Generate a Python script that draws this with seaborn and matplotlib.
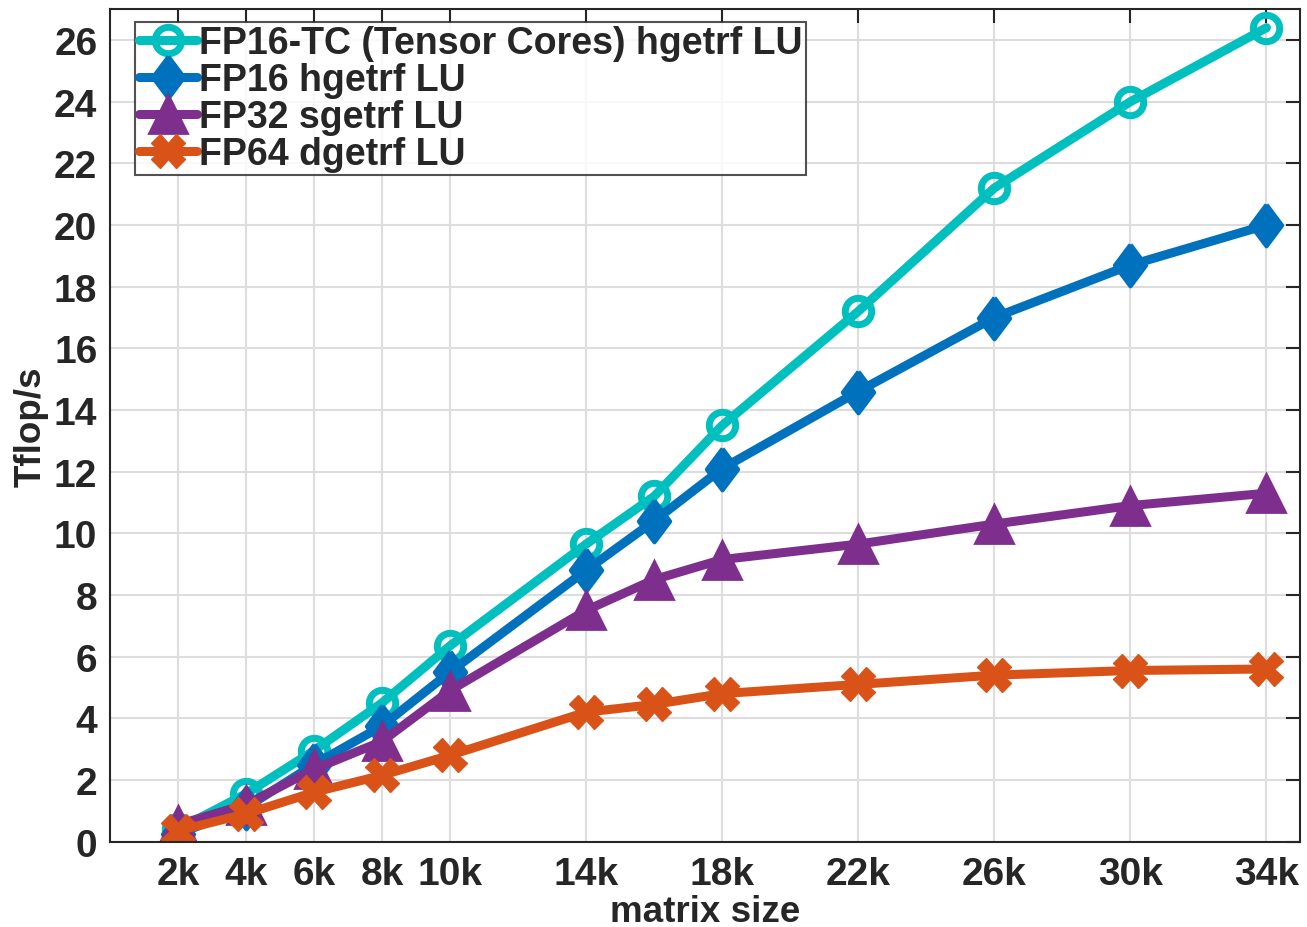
import numpy as np
import pandas as pd
import matplotlib
matplotlib.use("Agg")
import matplotlib.pyplot as plt
import seaborn as sns

# matrix size in k
sizes = [2, 4, 6, 8, 10, 14, 16, 18, 22, 26, 30, 34]
tick_sizes = [2, 4, 6, 8, 10, 14, 18, 22, 26, 30, 34]
tick_labels = [f"{s}k" for s in tick_sizes]

fp16_tc = [0.4, 1.55, 2.95, 4.5, 6.35, 9.65, 11.2, 13.5, 17.2, 21.2, 24.0, 26.4]
fp16 = [0.25, 1.1, 2.5, 3.75, 5.5, 8.8, 10.4, 12.1, 14.6, 17.0, 18.7, 20.0]
fp32 = [0.55, 1.2, 2.35, 3.25, 4.9, 7.5, 8.5, 9.15, 9.65, 10.3, 10.9, 11.3]
fp64 = [0.35, 0.9, 1.6, 2.15, 2.8, 4.2, 4.45, 4.8, 5.1, 5.4, 5.55, 5.6]

# MATLAB-style diamond (a bit taller than wide)
diamond = [(0, 1), (0.75, 0), (0, -1), (-0.75, 0), (0, 1)]

series = [
    ("FP16-TC (Tensor Cores) hgetrf LU", fp16_tc, "#00BFBF", "o"),
    ("FP16 hgetrf LU", fp16, "#0072BD", diamond),
    ("FP32 sgetrf LU", fp32, "#7E2F8E", "^"),
    ("FP64 dgetrf LU", fp64, "#D95319", "X"),
]

sns.set_style("white")
plt.rcParams['font.family'] = ['Liberation Sans', 'DejaVu Sans']
plt.rcParams['font.weight'] = 'bold'

fig, ax = plt.subplots(figsize=(13.07, 9.28), dpi=100)
fig.subplots_adjust(left=0.084, right=0.995, top=0.989, bottom=0.092)

for name, vals, color, mk in series:
    df = pd.DataFrame({"size": sizes, "tflops": vals})
    if mk == "o":
        extra = dict(markerfacecolor="none", markeredgecolor=color,
                     markeredgewidth=5, markersize=19)
    elif mk == "^":
        extra = dict(markerfacecolor=color, markeredgecolor=color,
                     markeredgewidth=2, markersize=27)
    elif mk == "X":
        extra = dict(markerfacecolor=color, markeredgecolor=color,
                     markeredgewidth=1, markersize=24)
    else:
        extra = dict(markerfacecolor=color, markeredgecolor=color,
                     markeredgewidth=3, markersize=30)
    sns.lineplot(data=df, x="size", y="tflops", ax=ax, color=color,
                 marker=mk, linewidth=6.5, label=name, **extra)

ax.set_xlim(0, 35)
ax.set_ylim(0, 27)
ax.set_xticks(tick_sizes)
ax.set_xticklabels(tick_labels)
ax.set_yticks(np.arange(0, 27, 2))
ax.grid(True, color="#dddddd", linewidth=1.5)
ax.set_axisbelow(True)
for sp in ax.spines.values():
    sp.set_color("#262626")
    sp.set_linewidth(1.5)
ax.tick_params(axis="both", which="both", direction="in", length=10, width=1.5,
               top=True, right=True, labelsize=28, colors="#262626",
               labelcolor="#262626")
ax.tick_params(axis="x", pad=10)
ax.tick_params(axis="y", pad=9)
for lbl in ax.get_xticklabels() + ax.get_yticklabels():
    lbl.set_fontweight("bold")

ax.set_xlabel("matrix size", fontsize=26.5, fontweight="bold", labelpad=2)
ax.set_ylabel("Tflop/s", fontsize=26.5, fontweight="bold", labelpad=4)

leg = ax.legend(loc="upper left", bbox_to_anchor=(0.021, 0.985), fontsize=27,
                frameon=True, fancybox=False, handlelength=1.55, handletextpad=0.05,
                borderpad=0.1, labelspacing=0.02, borderaxespad=0)
leg.get_frame().set_edgecolor("#262626")
leg.get_frame().set_linewidth(1.5)
for t in leg.get_texts():
    t.set_fontweight("bold")

fig.savefig("out.png", dpi=100)
